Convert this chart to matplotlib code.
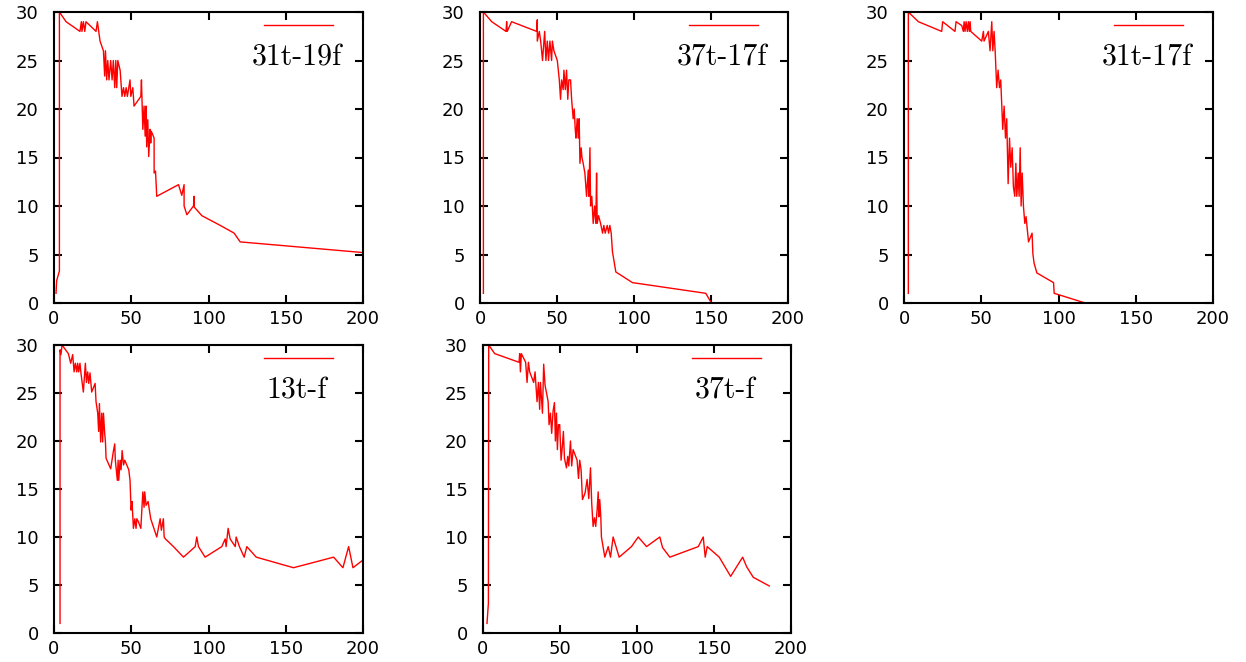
#!/usr/bin/env python
# -*- coding: utf-8 -*-

import matplotlib
matplotlib.use('Agg')
import matplotlib.pyplot as plt
from matplotlib.lines import Line2D

# values
x_31t_19f = [1.3, 1.7, 3.5, 3.5, 7.8, 16.8, 17.7, 18.1, 19.0, 19.9, 20.7, 27.2,
             28.1, 29.8, 32.0, 32.8, 33.3, 34.1, 34.8, 35.6, 36.7, 37.6, 38.4,
             39.3, 40.0, 40.6, 41.3, 42.8, 44.0, 45.0, 45.8, 46.7, 47.5, 48.4,
             49.2, 49.7, 51.0, 51.8, 56.2, 56.6, 57.5, 58.3, 59.0, 59.6, 60.0,
             60.7, 61.3, 62.2, 62.6, 63.0, 64.8, 64.8, 65.7, 66.5, 80.6, 82.7,
             84.2, 84.2, 86.0, 90.3, 90.7, 90.7, 95.7, 107.6, 116.6, 120.5, 200]
y_31t_19f = [1, 2.3, 3.3, 30, 29, 28, 29, 28, 29, 28, 29, 28, 29, 27, 26, 23.4,
             26, 23, 25, 23, 25, 23, 25, 22.2, 25, 22.2, 25, 24, 21.3, 22.2,
             21.3, 22.2, 21.3, 22.2, 23, 21.3, 22.2, 20.3, 21.3, 23, 17.9, 20.3,
             17.2, 20.3, 16.1, 18.9, 15.1, 17.9, 16.5, 17.7, 17, 13.4, 13.6, 11,
             12.2, 11.1, 12.2, 10, 9.1, 10, 11, 9.9, 9, 8, 7.2, 6.3, 5.2]

x_37t_17f = [2.2, 2.2, 7.6, 16.9, 17.3, 17.7, 20.5, 36.8, 37.2, 37.2, 38.5, 39.4,
             40.6, 42.0, 42.8, 43.7, 44.5, 45.4, 46.5, 47.0, 48.0, 50.2, 51.5,
             52.3, 53.0, 54.0, 54.5, 55.4, 56.2, 57.0, 57.7, 58.8, 59.5, 60.0,
             60.5, 61.2, 61.8, 62.3, 63.1, 63.8, 64.4, 64.9, 65.7, 66.2, 67.0,
             68.1, 69.2, 70.3, 70.7, 71.4, 71.8, 72.6, 73.5, 74.4, 75.2, 75.7,
             76.1, 77.0, 78.3, 79.6, 80.4, 81.3, 82.6, 83.5, 84.3, 85.2, 86.0,
             88.2, 99.0, 146.6, 150.3]
y_37t_17f = [1, 30, 29, 28, 29, 28, 29, 28, 29.2, 27, 28, 27, 25, 28, 25, 27,
             25, 27, 25, 27, 26, 25, 23, 21, 23, 22, 24, 22, 24, 21, 23, 23, 21,
             20, 19, 20, 18, 17, 19, 17, 19, 14.4, 16, 15, 14.4, 13.4, 11, 13.7,
             11, 16, 10, 11, 8.2, 10, 8.2, 13.4, 8.2, 9, 8.2, 7.2, 8, 7.2, 8,
             7.2, 8, 7.2, 5.3, 3.2, 2.1, 1.0, 0]

x_31t_17f = [2.8, 2.8, 9.3, 24.4, 25.0, 33.0, 33.7, 37.4, 38.4, 38.9, 39.5,
             40.2, 41.0, 41.7, 42.3, 42.8, 43.2, 50.3, 51.4, 51.8, 54.6, 55.7,
             56.8, 57.5, 58.3, 59.0, 60.0, 60.9, 61.8, 62.6, 63.3, 63.9, 64.8,
             65.7, 66.5, 67.4, 68.3, 69.1, 70.0, 70.8, 71.7, 72.4, 73.0, 73.9,
             74.5, 75.2, 75.8, 76.5, 77.3, 78.2, 79.0, 80.6, 82.9, 83.4, 84.2,
             86.0, 96.8, 97.2, 117.3]
y_31t_17f = [1, 30, 29, 28, 29, 28, 29, 28.6, 28, 29, 28, 29, 28, 29, 28, 29,
             28, 27, 28, 27, 28, 26, 29, 26, 28, 26, 22.2, 24, 22.2, 23, 20.3,
             17.9, 20.3, 17, 19, 12.3, 17, 14, 16, 12, 11, 14.4, 11, 13.4, 11,
             16, 10, 13.4, 10, 8.2, 8.9, 6.3, 7.2, 5.1, 4.1, 3.1, 2.1, 1.0, 0]

x_13t_f = [3.9, 3.9, 4.5, 5.2, 9.3, 10.8, 12.1, 13.0, 13.8, 14.7, 15.3, 16.0,
           16.8, 17.5, 19.0, 20.3, 21.0, 21.8, 22.5, 23.3, 24.4, 26.6, 27.2,
           28.3, 28.9, 29.4, 30.2, 30.9, 31.5, 32.0, 32.8, 33.3, 33.7, 36.7,
           38.4, 39.3, 39.7, 41.0, 41.5, 41.9, 42.8, 43.4, 44.1, 45.0, 45.8,
           48.4, 49.2, 49.9, 50.5, 51.4, 52.3, 53.1, 53.6, 54.6, 56.2, 57.5,
           58.3, 58.7, 59.6, 60.9, 62.6, 66.5, 68.7, 69.5, 70.8, 71.3, 72.1,
           77.3, 83.8, 91.4, 92.4, 93.5, 97.8, 108.6, 110.8, 111.4, 112.7,
           114.0, 117.3, 117.9, 120.0, 123.1, 124.8, 130.9, 155.0, 181.0,
           187.0, 190.7, 193.5, 200]
y_13t_f = [1, 29.5, 29, 30, 29.1, 28.1, 29, 27.2, 28.1, 27.2, 28.1, 27.2, 28.1,
           27, 25.1, 28.1, 26.1, 27.2, 26, 27.1, 25.1, 26, 24.1, 22.9, 21, 23.9,
           19.9, 22.9, 19.9, 22.9, 20.8, 19.9, 18.2, 17.1, 18.9, 19.7, 18, 15.9,
           18, 15.9, 18, 17, 19, 17.5, 18, 17, 15.9, 12.8, 13.7, 10.9, 11.9,
           10.9, 11.9, 11.6, 10.9, 14.7, 13.1, 14.7, 13.3, 13.7, 11.9, 10, 11.9,
           10.7, 11.9, 10, 9.8, 9, 7.9, 9, 10, 9, 7.9, 9, 9.8, 9, 10.9, 9.8, 9,
           10, 9, 7.9, 9, 7.9, 6.8, 7.9, 6.8, 9, 6.8, 7.6]

x_37t_f = [2.6, 3.5, 3.7, 7.6, 23.4, 23.8, 24.3, 24.9, 27.7, 28.6, 29.5, 30.3,
           32.9, 33.8, 35.1, 36.0, 36.8, 37.3, 38.6, 39.4, 40.3, 42.3, 42.9,
           43.8, 44.6, 45.5, 46.4, 47.0, 47.7, 48.3, 49.0, 49.8, 50.7, 51.6,
           52.2, 52.9, 54.2, 55.0, 55.7, 56.8, 57.6, 58.5, 61.1, 62.0, 62.8,
           63.7, 64.6, 66.3, 67.6, 68.7, 69.8, 70.6, 71.5, 72.4, 73.2, 74.1,
           74.8, 75.2, 75.8, 76.5, 76.9, 79.1, 81.3, 82.8, 84.5, 88.4, 96.4,
           100.8, 106.2, 114.8, 116.6, 121.3, 139.8, 143.0, 144.3, 145.6, 153.4,
           157.1, 160.8, 168.6, 171.2, 175.5, 185.9]
y_37t_f = [1, 3.1, 30, 29.1, 28.2, 29.1, 27.2, 29.1, 28.2, 26.1, 28.2, 27.2,
           26.1, 27.2, 24.1, 26.1, 23.3, 26.1, 22.9, 28, 25.8, 24.1, 21.7, 22.9,
           20.8, 23.1, 24, 20, 22.9, 19.1, 21.7, 21.7, 18, 19.6, 21, 18.2, 17.2,
           18.4, 17.4, 20, 17.4, 19.1, 18, 16.1, 18, 17, 13.9, 14.6, 16, 14,
           17.2, 13.5, 11.1, 12, 11.1, 12.8, 14.7, 12.1, 13.9, 12.1, 10, 7.9, 9,
           7.9, 10, 7.9, 9, 10, 9, 10, 8.9, 7.9, 9, 10, 7.9, 9, 7.9, 6.9, 5.9,
           7.9, 6.9, 5.8, 4.9]

labels = ['31t-19f', '37t-17f', '31t-17f', '13t-f', '37t-f']
series = [(x_31t_19f, y_31t_19f), (x_37t_17f, y_37t_17f),
          (x_31t_17f, y_31t_17f), (x_13t_f, y_13t_f), (x_37t_f, y_37t_f)]
x_ticks = [0, 50, 100, 150, 200]
y_ticks = [0, 5, 10, 15, 20, 25, 30]

W, H = 1246, 662
# axes boxes in pixels: left, right, top, bottom
boxes = [(54, 363, 12, 303), (480, 788, 12, 303), (904, 1213, 12, 303),
         (54, 363, 345, 633), (483, 791, 345, 633)]


def draw_panel(fig, box, xs, ys, label):
    left, right, top, bottom = box
    ax = fig.add_axes([left / W, 1 - bottom / H, (right - left) / W,
                       (bottom - top) / H])
    ax.plot(xs, ys, color='#ff0000', lw=1.0)
    ax.set_xlim(0, 200)
    ax.set_ylim(0, 30)
    ax.set_xticks(x_ticks)
    ax.set_yticks(y_ticks)
    for s in ax.spines.values():
        s.set_linewidth(1.5)
    ax.tick_params(direction='in', length=5.5, width=1.5, top=True,
                   right=True, labelsize=13)
    ax.tick_params(axis='y', pad=11)
    ax.tick_params(axis='x', pad=5)

    # gnuplot-like key: sample line with the title below it
    ax.add_line(Line2D([0.68, 0.903], [0.955, 0.955], transform=ax.transAxes,
                       color='#ff0000', lw=1.0))
    ax.text(0.785, 0.815, label, transform=ax.transAxes, ha='center',
            va='baseline', fontsize=21.5, family='cmr10')
    return ax


def main():
    fig = plt.figure(figsize=(W / 100, H / 100), dpi=100)
    for box, (xs, ys), label in zip(boxes, series, labels):
        draw_panel(fig, box, xs, ys, label)
    fig.savefig('out.png', dpi=100)
    plt.close(fig)


if __name__ == '__main__':
    main()
